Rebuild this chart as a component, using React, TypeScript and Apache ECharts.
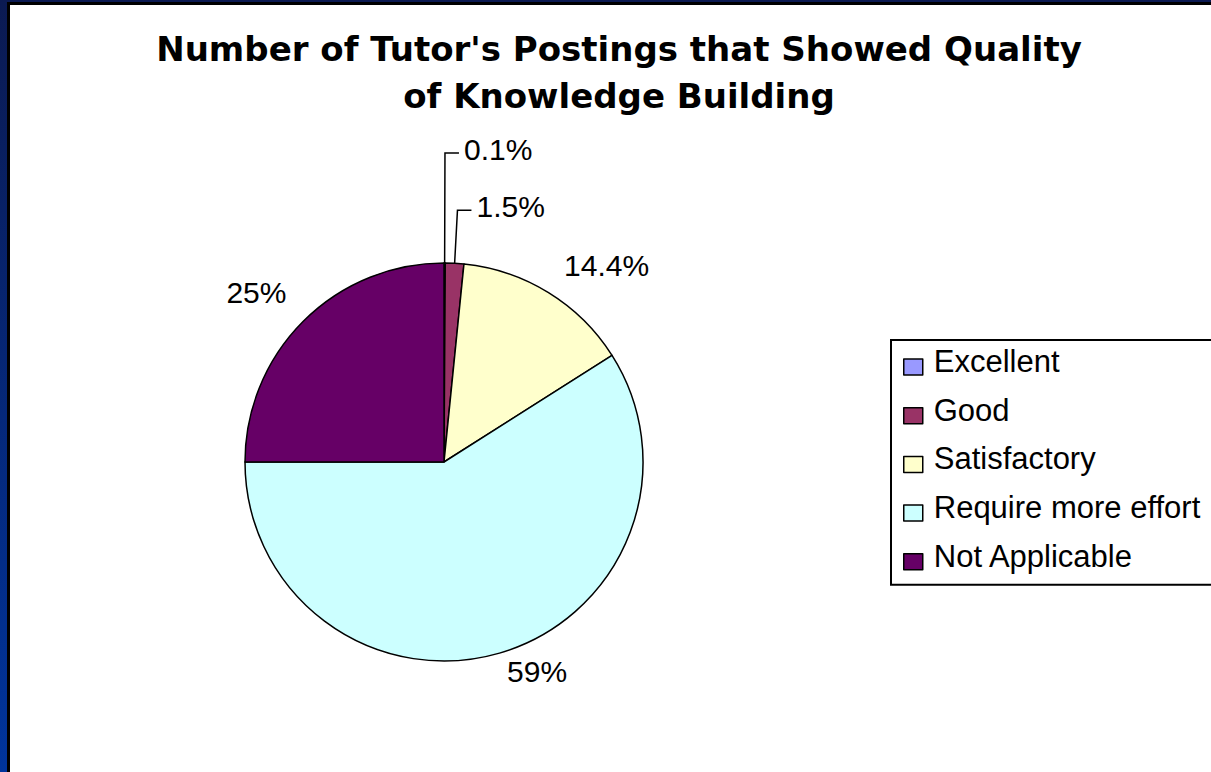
import React, { useEffect, useRef } from "react";
import * as echarts from "echarts";

const titleLines = ["Number of Tutor's Postings that Showed Quality", "of Knowledge Building"];
const categories = ["Excellent", "Good", "Satisfactory", "Require more effort", "Not Applicable"];
const values = [0.1, 1.5, 14.4, 59, 25];
const sliceColors = ["#9999FF", "#993366", "#FFFFCC", "#CCFFFF", "#660066"];
// leader line settings per slice: [show, length, length2]
const leaderLines: [boolean, number, number][] = [
  [true, 110, 14],
  [true, 53, 14],
  [false, 24, 0],
  [false, 20, 0],
  [false, 28, 0],
];
// fine label nudges for slices without leader lines
const labelNudges: [number, number][] = [
  [0, 0],
  [0, 0],
  [-2, -7],
  [-3, -1],
  [8, -9],
];

const labelFont = { fontFamily: "Liberation Sans", fontSize: 30, color: "#000" };

export default function App() {
  const ref = useRef<HTMLDivElement>(null);
  useEffect(() => {
    if (!ref.current) return;
    const chart = echarts.init(ref.current, null, { renderer: "svg" });
    const data = categories.map((name, i) => ({
      name,
      value: values[i],
      itemStyle: { color: sliceColors[i] },
      labelLine: {
        show: leaderLines[i][0],
        length: leaderLines[i][1],
        length2: leaderLines[i][2],
      },
    }));
    chart.setOption({
      animation: false,
      backgroundColor: "transparent",
      title: {
        text: titleLines.join("\n"),
        left: 619,
        top: 25,
        padding: 0,
        textAlign: "center",
        textStyle: {
          fontFamily: "DejaVu Sans",
          fontWeight: "bold",
          fontSize: 34,
          lineHeight: 47,
          color: "#000",
        },
      },
      legend: {
        orient: "vertical",
        left: 891,
        top: 340,
        padding: [6, 24, 2, 12],
        itemGap: 6.7,
        itemWidth: 19,
        itemHeight: 16,
        icon: "rect",
        borderColor: "#000",
        borderWidth: 2,
        backgroundColor: "#fff",
        itemStyle: { borderColor: "#000", borderWidth: 1.5 },
        formatter: "{t|{name}}",
        textStyle: {
          fontFamily: "Liberation Sans",
          fontSize: 31,
          color: "#000",
          rich: {
            t: {
              fontFamily: "Liberation Sans",
              fontSize: 31,
              lineHeight: 32,
              color: "#000",
              padding: [0, 0, 11, 6],
            },
          },
        },
        data: categories,
      },
      series: [
        {
          type: "pie",
          center: [444, 462],
          radius: 199,
          startAngle: 90,
          clockwise: true,
          avoidLabelOverlap: false,
          minShowLabelAngle: 0,
          itemStyle: { borderColor: "#000", borderWidth: 1.5 },
          label: {
            show: true,
            position: "outside",
            formatter: (p: any) =>
              leaderLines[p.dataIndex][0] ? `{l|${p.value}%}` : `${p.value}%`,
            ...labelFont,
            rich: {
              l: { ...labelFont, lineHeight: 32, padding: [0, 0, 7, 0] },
            },
            distanceToLabelLine: 5,
          },
          labelLine: { lineStyle: { color: "#000", width: 1.5 }, smooth: false },
          labelLayout: (p: any) => {
            const i = p.dataIndex;
            if (leaderLines[i][0]) return {};
            return { dx: labelNudges[i][0], dy: labelNudges[i][1] };
          },
          emphasis: { disabled: true },
          data,
        },
      ],
    });
    return () => chart.dispose();
  }, []);

  return (
    <div
      style={{
        position: "fixed",
        left: 0,
        top: 0,
        width: 1211,
        height: 772,
        background: "linear-gradient(to bottom, #0b1a52, #00349c)",
        overflow: "hidden",
      }}
    >
      <div style={{ position: "absolute", left: 7, top: 2, right: 0, bottom: 0, background: "#000" }} />
      <div style={{ position: "absolute", left: 10, top: 5, right: 0, bottom: 0, background: "#fff" }} />
      <div ref={ref} style={{ position: "absolute", left: 0, top: 0, width: 1211, height: 772 }} />
    </div>
  );
}
